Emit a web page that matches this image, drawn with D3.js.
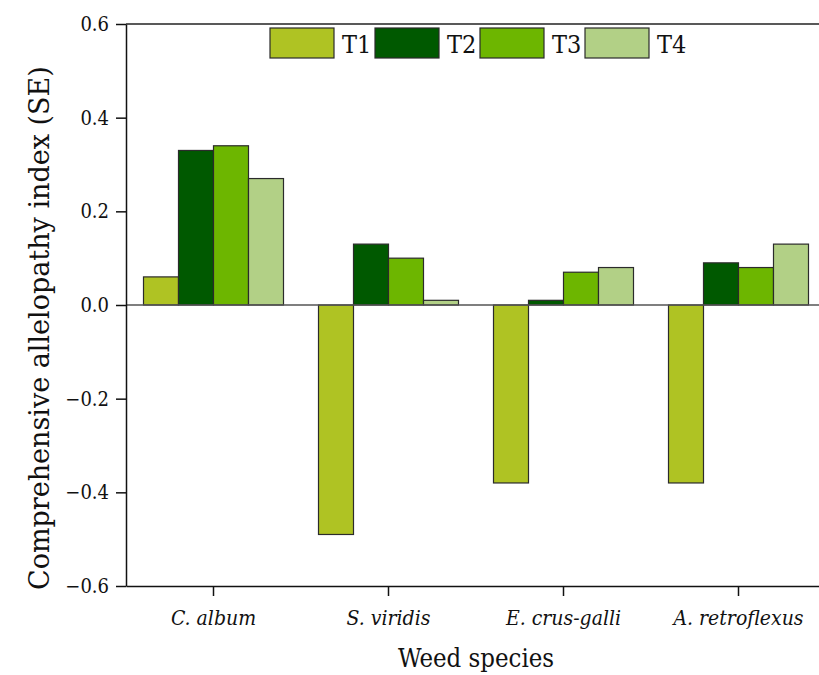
<!DOCTYPE html>
<html>
<head>
<meta charset="utf-8">
<script src="https://cdn.jsdelivr.net/npm/d3@7"></script>
<style>
  html, body { margin: 0; padding: 0; background: #fff; }
  svg { display: block; }
  svg text { font-family: "DejaVu Serif Condensed", "DejaVu Serif", serif; font-stretch: condensed; fill: #111; }
  svg text.y-title { font-family: "DejaVu Serif", serif; font-stretch: normal; }
</style>
</head>
<body>
<svg id="chart" width="819" height="675"></svg>
<script>
// Weed species (categories) and treatments (series)
const species = ["C. album", "S. viridis", "E. crus-galli", "A. retroflexus"];
const treatments = ["T1", "T2", "T3", "T4"];
const colors = ["#afc323", "#005900", "#6db600", "#b2d086"];

// Comprehensive allelopathy index per treatment, one value per species
const T1 = [0.06, -0.49, -0.38, -0.38];
const T2 = [0.33, 0.13, 0.01, 0.09];
const T3 = [0.34, 0.10, 0.07, 0.08];
const T4 = [0.27, 0.01, 0.08, 0.13];
const seriesValues = [T1, T2, T3, T4];

const yTicks = [-0.6, -0.4, -0.2, 0.0, 0.2, 0.4, 0.6];

const svg = d3.select("#chart");
const margin = { left: 126, top: 24, right: 826, bottom: 586 };

const x = d3.scaleBand().domain(species).range([margin.left, margin.right]).paddingInner(0.2).paddingOuter(0.1);
const xOuter = d3.scaleBand().domain(species).range([margin.left, margin.right]).padding(0);
const xSub = d3.scaleBand().domain(treatments).range([0, x.bandwidth()]).padding(0);
const y = d3.scaleLinear().domain([-0.6, 0.6]).range([margin.bottom, margin.top]);

// Bars
const rows = species.map((s, i) => treatments.map((t, j) => ({ s, t, j, v: seriesValues[j][i] })));
svg.append("g").selectAll("g").data(rows).join("g")
  .attr("transform", d => `translate(${xOuter(d[0].s) + (xOuter.bandwidth() - x.bandwidth()) / 2},0)`)
  .selectAll("rect").data(d => d).join("rect")
  .attr("x", d => xSub(d.t))
  .attr("width", xSub.bandwidth())
  .attr("y", d => y(Math.max(0, d.v)))
  .attr("height", d => Math.abs(y(d.v) - y(0)))
  .attr("fill", d => colors[d.j])
  .attr("stroke", "#2b2b2b")
  .attr("stroke-width", 1.2);

// Zero line
svg.append("line")
  .attr("x1", margin.left).attr("x2", 819)
  .attr("y1", y(0)).attr("y2", y(0))
  .attr("stroke", "#555").attr("stroke-width", 1.5);

// Top frame line
svg.append("line")
  .attr("x1", margin.left).attr("x2", 819)
  .attr("y1", margin.top).attr("y2", margin.top)
  .attr("stroke", "#222").attr("stroke-width", 1.5);

// Y axis
const fmt = v => (v < 0 ? "\u2212" : "") + Math.abs(v).toFixed(1);
const yAxis = svg.append("g")
  .attr("transform", `translate(${margin.left},0)`)
  .call(d3.axisLeft(y).tickValues(yTicks).tickFormat(fmt).tickSize(10).tickSizeOuter(0).tickPadding(7));
yAxis.attr("font-family", null).attr("font-size", null);
yAxis.select(".domain").attr("stroke", "#111").attr("stroke-width", 1.5);
yAxis.selectAll(".tick line").attr("stroke", "#111").attr("stroke-width", 1.5);
yAxis.selectAll("text").style("font-size", "20px");

// X axis
const xAxis = svg.append("g")
  .attr("transform", `translate(0,${margin.bottom})`)
  .call(d3.axisBottom(xOuter).tickSize(10).tickSizeOuter(0).tickPadding(14));
xAxis.attr("font-family", null).attr("font-size", null);
xAxis.select(".domain").attr("stroke", "#111").attr("stroke-width", 1.5);
xAxis.selectAll(".tick line").attr("stroke", "#111").attr("stroke-width", 1.5);
xAxis.selectAll("text").style("font-size", "21px").style("font-style", "italic");

// Axis titles
svg.append("text")
  .attr("class", "y-title")
  .attr("transform", "translate(49,590) rotate(-90)")
  .attr("text-anchor", "start")
  .style("font-size", "27px")
  .text("Comprehensive allelopathy index (SE)");

svg.append("text")
  .attr("x", 476).attr("y", 667)
  .attr("text-anchor", "middle")
  .style("font-size", "25.5px")
  .text("Weed species");

// Legend
const legend = svg.append("g").selectAll("g").data(treatments).join("g")
  .attr("transform", (d, i) => `translate(${270 + i * 105},28)`);
legend.append("rect")
  .attr("width", 64).attr("height", 30)
  .attr("fill", (d, i) => colors[i])
  .attr("stroke", "#2b2b2b").attr("stroke-width", 1.2);
legend.append("text")
  .attr("x", 72).attr("y", 25)
  .style("font-size", "25px")
  .text(d => d);
</script>
</body>
</html>
